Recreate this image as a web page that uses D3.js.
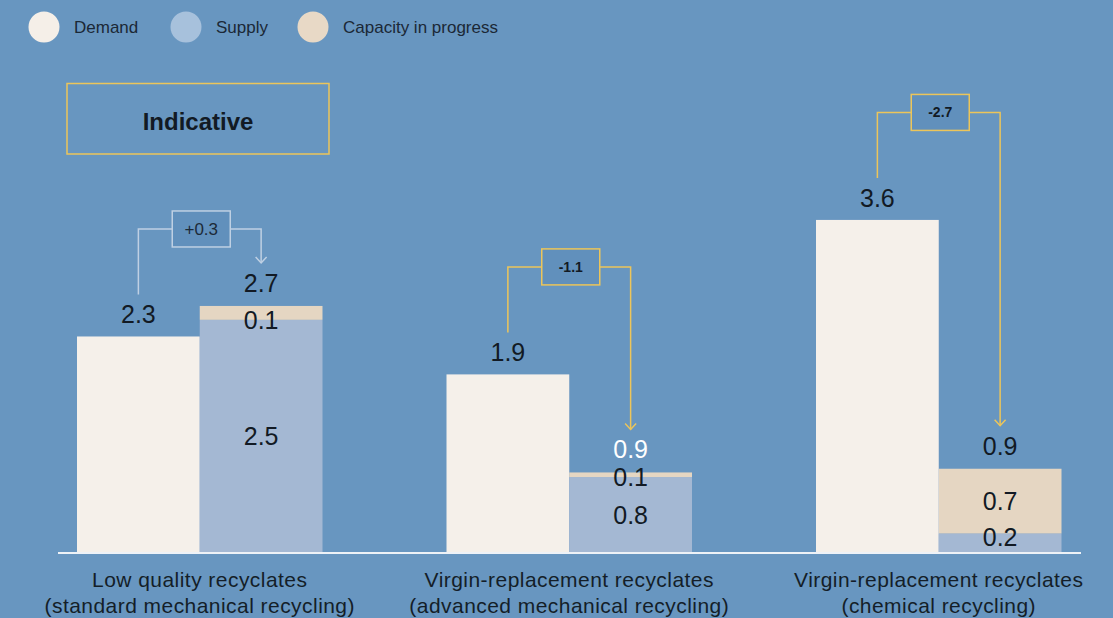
<!DOCTYPE html>
<html><head><meta charset="utf-8">
<script src="https://cdn.jsdelivr.net/npm/d3@7"></script>
<style>
html,body{margin:0;padding:0;background:#6896c0;}
svg{display:block;font-family:"Liberation Sans",Arial,sans-serif;}
</style></head><body>
<svg id="chart" width="1113" height="618"></svg>
<script>
// ---- data ----
const categoryNames = ["Low quality recyclates", "Virgin-replacement recyclates", "Virgin-replacement recyclates"];
const categorySubtitles = ["(standard mechanical recycling)", "(advanced mechanical recycling)", "(chemical recycling)"];
const series = ["Demand", "Supply", "Capacity in progress"];
const demand = [2.33, 1.92, 3.59];
const supply = [2.51, 0.81, 0.20];
const capacity = [0.15, 0.05, 0.70];
const demandLabels = ["2.3", "1.9", "3.6"];
const totalLabels = ["2.7", "0.9", "0.9"];
const supplyLabels = ["2.5", "0.8", "0.2"];
const capacityLabels = ["0.1", "0.1", "0.7"];
const gapLabels = ["+0.3", "-1.1", "-2.7"];
const badgeText = "Indicative";

// ---- styles ----
const colors = {"Demand": "#f5f0ea", "Supply": "#a4b8d3", "Capacity in progress": "#e5d6c2"};
const legendColors = {"Demand": "#f5efe8", "Supply": "#a7c1dc", "Capacity in progress": "#e8d9c6"};
const yellow = "#ecc55a";
const lightLine = "#bfd0e3";
const ink = "#121a24";

const svg = d3.select("#chart");
const cats = d3.range(categoryNames.length);

const x = d3.scaleBand().domain(cats).range([15, 1123.5]).paddingInner(0.3356).paddingOuter(0.1678);
const xs = d3.scaleBand().domain(["Demand", "Supply"]).range([0, x.bandwidth()]);
const y = d3.scaleLinear().domain([0, 4]).range([552, 182]);

const cx = (i, s) => x(i) + xs(s) + xs.bandwidth() / 2;

// legend
const legendX = [44, 186, 313];
const lg = svg.append("g");
series.forEach((s, i) => {
  lg.append("circle").attr("cx", legendX[i]).attr("cy", 27).attr("r", 15.5).attr("fill", legendColors[s]);
  lg.append("text").attr("x", legendX[i] + 30).attr("y", 33).attr("font-size", 17).attr("fill", "#1b2836").text(s);
});

// indicative badge
svg.append("rect").attr("x", 67).attr("y", 83.5).attr("width", 262).attr("height", 70.5)
  .attr("fill", "none").attr("stroke", yellow).attr("stroke-width", 1.5);
svg.append("text").attr("x", 198).attr("y", 130).attr("text-anchor", "middle")
  .attr("font-size", 24).attr("font-weight", "bold").attr("fill", ink).text(badgeText);

// bars
const g = svg.append("g");
cats.forEach(i => {
  const bw = xs.bandwidth();
  g.append("rect").attr("x", x(i) + xs("Demand")).attr("width", bw)
    .attr("y", y(demand[i])).attr("height", y(0) - y(demand[i])).attr("fill", colors["Demand"]);
  g.append("rect").attr("x", x(i) + xs("Supply")).attr("width", bw)
    .attr("y", y(supply[i])).attr("height", y(0) - y(supply[i])).attr("fill", colors["Supply"]);
  g.append("rect").attr("x", x(i) + xs("Supply")).attr("width", bw)
    .attr("y", y(supply[i] + capacity[i])).attr("height", y(supply[i]) - y(supply[i] + capacity[i])).attr("fill", colors["Capacity in progress"]);
});

// baseline
svg.append("line").attr("x1", 58).attr("x2", 1081).attr("y1", 553).attr("y2", 553)
  .attr("stroke", "#eef2f7").attr("stroke-width", 2);

// value labels
const fs = 25, capOff = 9;
const lbl = svg.append("g").attr("font-size", fs).attr("text-anchor", "middle").attr("fill", ink);
cats.forEach(i => {
  const total = supply[i] + capacity[i];
  lbl.append("text").attr("x", cx(i, "Demand")).attr("y", y(demand[i]) - 13).text(demandLabels[i]);
  lbl.append("text").attr("x", cx(i, "Supply")).attr("y", y(total) - 14)
    .attr("fill", i === 1 ? "#ffffff" : ink).text(totalLabels[i]);
  const capH = y(supply[i]) - y(total);
  const capC = capH < 20 ? y(supply[i]) : (y(supply[i]) + y(total)) / 2;
  lbl.append("text").attr("x", cx(i, "Supply")).attr("y", capC + capOff).text(capacityLabels[i]);
  const supH = y(0) - y(supply[i]);
  const supC = supH < 25 ? y(supply[i]) + 3 : (y(0) + y(supply[i])) / 2;
  lbl.append("text").attr("x", cx(i, "Supply")).attr("y", supC + capOff).text(supplyLabels[i]);
});

// gap brackets
cats.forEach(i => {
  const positive = gapLabels[i].startsWith("+");
  const col = positive ? lightLine : yellow;
  const lx = cx(i, "Demand"), rx = cx(i, "Supply");
  const total = supply[i] + capacity[i];
  const lb = y(demand[i]) - 42;
  const top = lb - 65.5;
  const tip = y(total) - 43;
  const bx = x(i) + x.bandwidth() / 2 + 1.5;
  const bwid = 58, bh = 36;
  const br = svg.append("g");
  br.append("path").attr("d", `M${lx},${lb}V${top}H${bx - bwid / 2}`)
    .attr("fill", "none").attr("stroke", col).attr("stroke-width", 1.5);
  br.append("path").attr("d", `M${bx + bwid / 2},${top}H${rx}V${tip}`)
    .attr("fill", "none").attr("stroke", col).attr("stroke-width", 1.5);
  br.append("path").attr("d", `M${rx - 5.5},${tip - 6}L${rx},${tip}L${rx + 5.5},${tip - 6}`)
    .attr("fill", "none").attr("stroke", col).attr("stroke-width", 1.5);
  br.append("rect").attr("x", bx - bwid / 2).attr("y", top - bh / 2).attr("width", bwid).attr("height", bh)
    .attr("fill", "#6190bc").attr("stroke", col).attr("stroke-width", 1.5);
  br.append("text").attr("x", bx).attr("y", top + (positive ? 6 : 5)).attr("text-anchor", "middle")
    .attr("font-size", positive ? 17 : 14).attr("font-weight", positive ? "normal" : "bold")
    .attr("fill", positive ? "#1c2a38" : ink).text(gapLabels[i]);
});

// category labels
const ax = svg.append("g").attr("font-size", 21).attr("text-anchor", "middle").attr("fill", "#141e28")
  .attr("letter-spacing", "0.45px");
cats.forEach(i => {
  const c = x(i) + x.bandwidth() / 2;
  ax.append("text").attr("x", c).attr("y", 587).text(categoryNames[i]);
  ax.append("text").attr("x", c).attr("y", 613).text(categorySubtitles[i]);
});
</script>
</body></html>
